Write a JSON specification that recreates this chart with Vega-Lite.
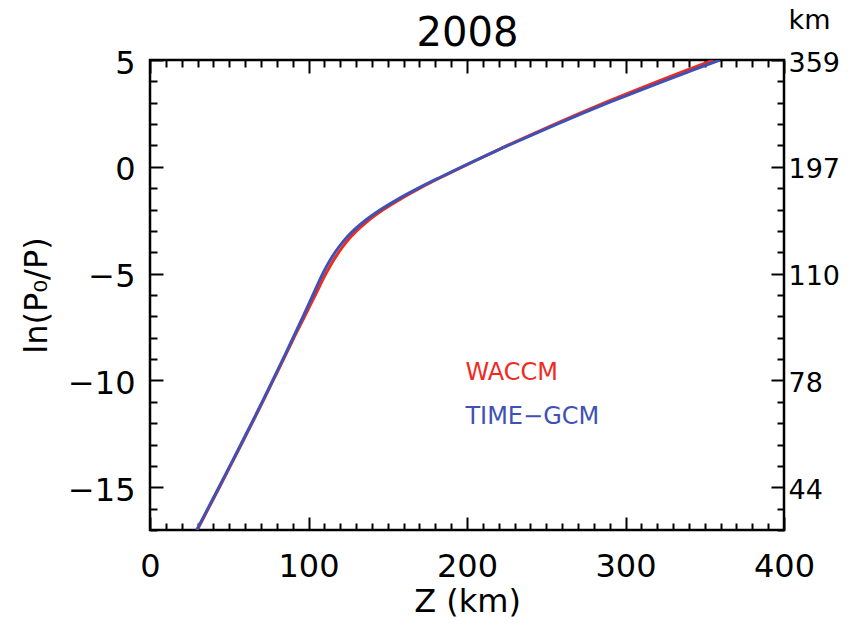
{
  "$schema": "https://vega.github.io/schema/vega-lite/v6.json",
  "width": 634,
  "height": 470,
  "autosize": {"type": "none"},
  "padding": {"left": 150, "top": 60, "right": 72, "bottom": 97},
  "background": "white",
  "config": {
    "font": "DejaVu Sans",
    "view": {"stroke": "black", "strokeWidth": 2.5},
    "axis": {"domain": false, "grid": false, "tickColor": "black", "tickWidth": 2, "labelColor": "black", "titleColor": "black", "titleFontWeight": "normal", "labelFont": "DejaVu Sans", "titleFont": "DejaVu Sans", "minExtent": 0, "maxExtent": 300}
  },
  "datasets": {
    "curves": [
      {"model": "WACCM", "z": 29.8, "lnp": -17},
      {"model": "WACCM", "z": 36.8, "lnp": -16},
      {"model": "WACCM", "z": 43.8, "lnp": -15},
      {"model": "WACCM", "z": 50.7, "lnp": -14},
      {"model": "WACCM", "z": 57.6, "lnp": -13},
      {"model": "WACCM", "z": 64.4, "lnp": -12},
      {"model": "WACCM", "z": 71.1, "lnp": -11},
      {"model": "WACCM", "z": 77.7, "lnp": -10},
      {"model": "WACCM", "z": 84.3, "lnp": -9},
      {"model": "WACCM", "z": 90.8, "lnp": -8},
      {"model": "WACCM", "z": 97.6, "lnp": -7},
      {"model": "WACCM", "z": 104.3, "lnp": -6},
      {"model": "WACCM", "z": 111.0, "lnp": -5},
      {"model": "WACCM", "z": 114.8, "lnp": -4.5},
      {"model": "WACCM", "z": 119.1, "lnp": -4},
      {"model": "WACCM", "z": 124.1, "lnp": -3.5},
      {"model": "WACCM", "z": 130.3, "lnp": -3},
      {"model": "WACCM", "z": 138.0, "lnp": -2.5},
      {"model": "WACCM", "z": 147.3, "lnp": -2},
      {"model": "WACCM", "z": 158.2, "lnp": -1.5},
      {"model": "WACCM", "z": 170.3, "lnp": -1},
      {"model": "WACCM", "z": 183.4, "lnp": -0.5},
      {"model": "WACCM", "z": 197.1, "lnp": 0},
      {"model": "WACCM", "z": 211.3, "lnp": 0.5},
      {"model": "WACCM", "z": 225.5, "lnp": 1},
      {"model": "WACCM", "z": 240.3, "lnp": 1.5},
      {"model": "WACCM", "z": 255.5, "lnp": 2},
      {"model": "WACCM", "z": 271.0, "lnp": 2.5},
      {"model": "WACCM", "z": 287.0, "lnp": 3},
      {"model": "WACCM", "z": 303.4, "lnp": 3.5},
      {"model": "WACCM", "z": 320.4, "lnp": 4},
      {"model": "WACCM", "z": 337.8, "lnp": 4.5},
      {"model": "WACCM", "z": 355.5, "lnp": 5},
      {"model": "TIME-GCM", "z": 29.5, "lnp": -17},
      {"model": "TIME-GCM", "z": 36.5, "lnp": -16},
      {"model": "TIME-GCM", "z": 43.5, "lnp": -15},
      {"model": "TIME-GCM", "z": 50.4, "lnp": -14},
      {"model": "TIME-GCM", "z": 57.3, "lnp": -13},
      {"model": "TIME-GCM", "z": 64.1, "lnp": -12},
      {"model": "TIME-GCM", "z": 70.8, "lnp": -11},
      {"model": "TIME-GCM", "z": 77.4, "lnp": -10},
      {"model": "TIME-GCM", "z": 83.9, "lnp": -9},
      {"model": "TIME-GCM", "z": 90.3, "lnp": -8},
      {"model": "TIME-GCM", "z": 96.6, "lnp": -7},
      {"model": "TIME-GCM", "z": 102.8, "lnp": -6},
      {"model": "TIME-GCM", "z": 109.0, "lnp": -5},
      {"model": "TIME-GCM", "z": 112.6, "lnp": -4.5},
      {"model": "TIME-GCM", "z": 116.8, "lnp": -4},
      {"model": "TIME-GCM", "z": 121.8, "lnp": -3.5},
      {"model": "TIME-GCM", "z": 128.1, "lnp": -3},
      {"model": "TIME-GCM", "z": 136.0, "lnp": -2.5},
      {"model": "TIME-GCM", "z": 145.6, "lnp": -2},
      {"model": "TIME-GCM", "z": 156.8, "lnp": -1.5},
      {"model": "TIME-GCM", "z": 169.3, "lnp": -1},
      {"model": "TIME-GCM", "z": 182.8, "lnp": -0.5},
      {"model": "TIME-GCM", "z": 196.8, "lnp": 0},
      {"model": "TIME-GCM", "z": 211.2, "lnp": 0.5},
      {"model": "TIME-GCM", "z": 226.0, "lnp": 1},
      {"model": "TIME-GCM", "z": 241.2, "lnp": 1.5},
      {"model": "TIME-GCM", "z": 256.8, "lnp": 2},
      {"model": "TIME-GCM", "z": 272.8, "lnp": 2.5},
      {"model": "TIME-GCM", "z": 289.3, "lnp": 3},
      {"model": "TIME-GCM", "z": 306.3, "lnp": 3.5},
      {"model": "TIME-GCM", "z": 323.8, "lnp": 4},
      {"model": "TIME-GCM", "z": 341.6, "lnp": 4.5},
      {"model": "TIME-GCM", "z": 359.5, "lnp": 5}
    ],
    "labels": [
      {"label": "WACCM", "z": 199, "lnp": -9.66},
      {"label": "TIME−GCM", "z": 199, "lnp": -11.72}
    ]
  },
  "resolve": {"axis": {"x": "independent", "y": "independent"}},
  "layer": [
    {
      "data": {"name": "curves"},
      "transform": [{"filter": "datum.model === 'WACCM'"}],
      "mark": {"type": "line", "color": "#ef2b1f", "strokeWidth": 3, "interpolate": "monotone", "clip": true},
      "encoding": {
        "x": {"field": "z", "type": "quantitative", "scale": {"domain": [0, 400], "nice": false, "zero": false},
          "axis": {"orient": "bottom", "values": [0, 100, 200, 300, 400], "ticks": false, "labelFontSize": 32, "labelPadding": 21, "labelFlush": false, "title": "Z (km)", "titleFontSize": 32, "titlePadding": 4}},
        "y": {"field": "lnp", "type": "quantitative", "scale": {"domain": [-17, 5], "nice": false, "zero": false},
          "axis": {"orient": "left", "values": [-15, -10, -5, 0, 5], "ticks": false, "labelFontSize": 32, "labelPadding": 15, "labelFlush": false, "labelOffset": 3, "title": "ln(P₀/P)", "titleFontSize": 32, "titlePadding": 14}}
      }
    },
    {
      "data": {"name": "curves"},
      "transform": [{"filter": "datum.model === 'TIME-GCM'"}],
      "mark": {"type": "line", "color": "#3f51b5", "strokeWidth": 3, "interpolate": "monotone", "clip": true},
      "encoding": {
        "x": {"field": "z", "type": "quantitative", "scale": {"domain": [0, 400], "nice": false, "zero": false},
          "axis": {"orient": "bottom", "values": [0,10,20,30,40,50,60,70,80,90,100,110,120,130,140,150,160,170,180,190,200,210,220,230,240,250,260,270,280,290,300,310,320,330,340,350,360,370,380,390,400], "labels": false, "title": null, "tickSize": {"condition": {"test": "datum.value % 100 === 0", "value": -13}, "value": -7}}},
        "y": {"field": "lnp", "type": "quantitative", "scale": {"domain": [-17, 5], "nice": false, "zero": false},
          "axis": {"orient": "left", "values": [-17,-16,-15,-14,-13,-12,-11,-10,-9,-8,-7,-6,-5,-4,-3,-2,-1,0,1,2,3,4,5], "labels": false, "title": null, "tickSize": {"condition": {"test": "datum.value % 5 === 0", "value": -13}, "value": -7}}}
      }
    },
    {
      "data": {"name": "labels"},
      "transform": [{"filter": "datum.label === 'WACCM'"}],
      "mark": {"type": "text", "color": "#ef2b1f", "fontSize": 24, "font": "DejaVu Sans", "align": "left", "baseline": "middle"},
      "encoding": {
        "x": {"field": "z", "type": "quantitative", "scale": {"domain": [0, 400], "nice": false, "zero": false},
          "axis": {"orient": "top", "values": [0,10,20,30,40,50,60,70,80,90,100,110,120,130,140,150,160,170,180,190,200,210,220,230,240,250,260,270,280,290,300,310,320,330,340,350,360,370,380,390,400], "labels": false, "title": "2008", "titleFontSize": 40, "titlePadding": 14, "titleBaseline": "alphabetic", "tickSize": {"condition": {"test": "datum.value % 100 === 0", "value": -13}, "value": -7}}},
        "y": {"field": "lnp", "type": "quantitative", "scale": {"domain": [-17, 5], "nice": false, "zero": false},
          "axis": {"orient": "right", "values": [-17,-16,-15,-14,-13,-12,-11,-10,-9,-8,-7,-6,-5,-4,-3,-2,-1,0,1,2,3,4,5], "labels": false, "title": null, "tickSize": {"condition": {"test": "datum.value % 5 === 0", "value": -13}, "value": -7}}},
        "text": {"field": "label"}
      }
    },
    {
      "data": {"name": "labels"},
      "transform": [{"filter": "datum.label !== 'WACCM'"}],
      "mark": {"type": "text", "color": "#3f51b5", "fontSize": 24, "font": "DejaVu Sans", "align": "left", "baseline": "middle"},
      "encoding": {
        "x": {"field": "z", "type": "quantitative", "scale": {"domain": [0, 400], "nice": false, "zero": false}, "axis": null},
        "y": {"field": "lnp", "type": "quantitative", "scale": {"domain": [-17, 5], "nice": false, "zero": false},
          "axis": {"orient": "right", "values": [-15, -10, -5, 0, 5], "ticks": false, "labelFontSize": 27, "labelPadding": 4, "labelOffset": 3, "labelFlush": false, "labelAlign": "left", "labelExpr": "datum.value == 5 ? '359' : datum.value == 0 ? '197' : datum.value == -5 ? '110' : datum.value == -10 ? '78' : '44'", "title": "km", "titleAngle": 0, "titleX": 25, "titleY": -40, "titleAlign": "center", "titleBaseline": "middle", "titleFontSize": 27}},
        "text": {"field": "label"}
      }
    }
  ]
}
